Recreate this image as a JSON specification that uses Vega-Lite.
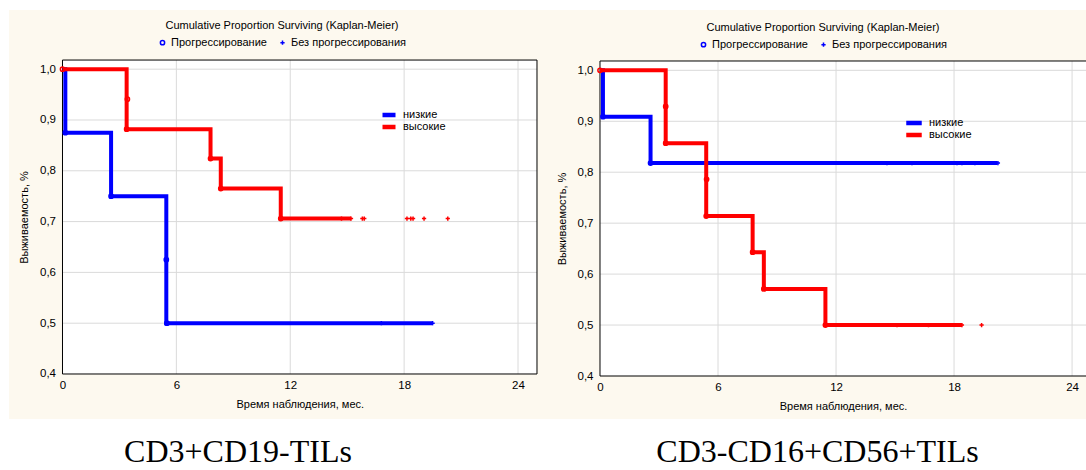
{
  "$schema": "https://vega.github.io/schema/vega-lite/v6.json",
  "padding": {"left": 9, "top": 10, "right": 0, "bottom": 0},
  "spacing": 0,
  "datasets": {
    "lines": [
      {"panel": "L", "group": "низкие", "t": 0, "s": 1},
      {"panel": "L", "group": "низкие", "t": 0.15, "s": 0.875},
      {"panel": "L", "group": "низкие", "t": 2.56, "s": 0.75},
      {"panel": "L", "group": "низкие", "t": 5.47, "s": 0.5},
      {"panel": "L", "group": "низкие", "t": 19.5, "s": 0.5},
      {"panel": "L", "group": "высокие", "t": 0, "s": 1},
      {"panel": "L", "group": "высокие", "t": 3.38, "s": 0.882},
      {"panel": "L", "group": "высокие", "t": 7.8, "s": 0.824},
      {"panel": "L", "group": "высокие", "t": 8.34, "s": 0.765},
      {"panel": "L", "group": "высокие", "t": 11.5, "s": 0.706},
      {"panel": "L", "group": "высокие", "t": 15.2, "s": 0.706},
      {"panel": "R", "group": "низкие", "t": 0, "s": 1},
      {"panel": "R", "group": "низкие", "t": 0.15, "s": 0.909},
      {"panel": "R", "group": "низкие", "t": 2.57, "s": 0.818},
      {"panel": "R", "group": "низкие", "t": 20.2, "s": 0.818},
      {"panel": "R", "group": "высокие", "t": 0, "s": 1},
      {"panel": "R", "group": "высокие", "t": 3.34, "s": 0.857},
      {"panel": "R", "group": "высокие", "t": 5.4, "s": 0.714},
      {"panel": "R", "group": "высокие", "t": 7.76, "s": 0.643},
      {"panel": "R", "group": "высокие", "t": 8.33, "s": 0.571},
      {"panel": "R", "group": "высокие", "t": 11.46, "s": 0.5},
      {"panel": "R", "group": "высокие", "t": 18.4, "s": 0.5}
    ],
    "marks": [
      {"panel": "L", "group": "низкие", "status": "Прогрессирование", "t": 0.15, "s": 0.875},
      {"panel": "L", "group": "низкие", "status": "Прогрессирование", "t": 2.56, "s": 0.75},
      {"panel": "L", "group": "низкие", "status": "Прогрессирование", "t": 5.47, "s": 0.625},
      {"panel": "L", "group": "низкие", "status": "Прогрессирование", "t": 5.5, "s": 0.5},
      {"panel": "L", "group": "низкие", "status": "Без прогрессирования", "t": 16.8, "s": 0.5},
      {"panel": "L", "group": "низкие", "status": "Без прогрессирования", "t": 19.5, "s": 0.5},
      {"panel": "L", "group": "высокие", "status": "Прогрессирование", "t": 0, "s": 1},
      {"panel": "L", "group": "высокие", "status": "Прогрессирование", "t": 3.42, "s": 0.941},
      {"panel": "L", "group": "высокие", "status": "Прогрессирование", "t": 3.38, "s": 0.882},
      {"panel": "L", "group": "высокие", "status": "Прогрессирование", "t": 7.8, "s": 0.824},
      {"panel": "L", "group": "высокие", "status": "Прогрессирование", "t": 8.34, "s": 0.765},
      {"panel": "L", "group": "высокие", "status": "Прогрессирование", "t": 11.5, "s": 0.706},
      {"panel": "L", "group": "высокие", "status": "Без прогрессирования", "t": 14.7, "s": 0.706},
      {"panel": "L", "group": "высокие", "status": "Без прогрессирования", "t": 15.2, "s": 0.706},
      {"panel": "L", "group": "высокие", "status": "Без прогрессирования", "t": 15.8, "s": 0.706},
      {"panel": "L", "group": "высокие", "status": "Без прогрессирования", "t": 15.9, "s": 0.706},
      {"panel": "L", "group": "высокие", "status": "Без прогрессирования", "t": 18.15, "s": 0.706},
      {"panel": "L", "group": "высокие", "status": "Без прогрессирования", "t": 18.35, "s": 0.706},
      {"panel": "L", "group": "высокие", "status": "Без прогрессирования", "t": 18.47, "s": 0.706},
      {"panel": "L", "group": "высокие", "status": "Без прогрессирования", "t": 19.05, "s": 0.706},
      {"panel": "L", "group": "высокие", "status": "Без прогрессирования", "t": 20.3, "s": 0.706},
      {"panel": "R", "group": "низкие", "status": "Прогрессирование", "t": 0.15, "s": 0.909},
      {"panel": "R", "group": "низкие", "status": "Прогрессирование", "t": 2.57, "s": 0.818},
      {"panel": "R", "group": "низкие", "status": "Без прогрессирования", "t": 14.59, "s": 0.818},
      {"panel": "R", "group": "низкие", "status": "Без прогрессирования", "t": 15.86, "s": 0.818},
      {"panel": "R", "group": "низкие", "status": "Без прогрессирования", "t": 18.15, "s": 0.818},
      {"panel": "R", "group": "низкие", "status": "Без прогрессирования", "t": 18.4, "s": 0.818},
      {"panel": "R", "group": "низкие", "status": "Без прогрессирования", "t": 19.06, "s": 0.818},
      {"panel": "R", "group": "низкие", "status": "Без прогрессирования", "t": 20.23, "s": 0.818},
      {"panel": "R", "group": "высокие", "status": "Прогрессирование", "t": 0, "s": 1},
      {"panel": "R", "group": "высокие", "status": "Прогрессирование", "t": 3.34, "s": 0.929},
      {"panel": "R", "group": "высокие", "status": "Прогрессирование", "t": 3.34, "s": 0.857},
      {"panel": "R", "group": "высокие", "status": "Прогрессирование", "t": 5.42, "s": 0.786},
      {"panel": "R", "group": "высокие", "status": "Прогрессирование", "t": 5.4, "s": 0.714},
      {"panel": "R", "group": "высокие", "status": "Прогрессирование", "t": 7.76, "s": 0.643},
      {"panel": "R", "group": "высокие", "status": "Прогрессирование", "t": 8.33, "s": 0.571},
      {"panel": "R", "group": "высокие", "status": "Прогрессирование", "t": 11.46, "s": 0.5},
      {"panel": "R", "group": "высокие", "status": "Без прогрессирования", "t": 15.1, "s": 0.5},
      {"panel": "R", "group": "высокие", "status": "Без прогрессирования", "t": 16.7, "s": 0.5},
      {"panel": "R", "group": "высокие", "status": "Без прогрессирования", "t": 18.4, "s": 0.5},
      {"panel": "R", "group": "высокие", "status": "Без прогрессирования", "t": 19.4, "s": 0.5}
    ],
    "gridx": [{"v": 6}, {"v": 12}, {"v": 18}, {"v": 24}],
    "gridy": [{"v": 0.5}, {"v": 0.6}, {"v": 0.7}, {"v": 0.8}, {"v": 0.9}, {"v": 1.0}]
  },
  "hconcat": [
    {
      "width": 536,
      "height": 409,
      "title": {"text": "CD3+CD19-TILs", "orient": "bottom", "anchor": "middle", "frame": "group", "dx": -39, "offset": 18, "font": "Liberation Serif", "fontSize": 32, "fontWeight": "normal", "color": "#000000"},
      "layer": [
        {
          "data": {"values": [{}]},
          "mark": {"type": "rect", "fill": "#ffffff", "clip": true},
          "encoding": {
            "x": {"datum": 0, "type": "quantitative", "scale": {"domain": [-2.818, 25.422], "nice": false, "zero": false},
              "axis": {"values": [0, 6, 12, 18, 24], "offset": -45, "labelPadding": 5, "labelFlush": false, "labelOverlap": false, "title": "Время наблюдения, мес.", "titleX": 290.75, "titlePadding": 8}},
            "x2": {"datum": 25},
            "y": {"datum": 0.4, "type": "quantitative", "scale": {"domain": [0.3114, 1.1165], "nice": false, "zero": false},
              "axis": {"values": [0.4, 0.5, 0.6, 0.7, 0.8, 0.9, 1.0], "offset": -53.5, "labelPadding": 7, "labelFlush": false, "labelOverlap": false, "labelExpr": "replace(format(datum.value, '.1f'), '.', ',')", "title": "Выживаемость, %", "titleY": 207, "titlePadding": 10}},
            "y2": {"datum": 1.018}
          }
        },
        {
          "data": {"name": "gridx"},
          "mark": {"type": "rule", "color": "#dadada", "strokeWidth": 1},
          "encoding": {"x": {"field": "v", "type": "quantitative"}, "y": {"datum": 0.4, "type": "quantitative"}, "y2": {"datum": 1.018}}
        },
        {
          "data": {"name": "gridy"},
          "mark": {"type": "rule", "color": "#dadada", "strokeWidth": 1, "clip": true},
          "encoding": {"y": {"field": "v", "type": "quantitative"}, "x": {"datum": 0, "type": "quantitative"}, "x2": {"datum": 25}}
        },
        {
          "data": {"values": [{}]},
          "mark": {"type": "rect", "fill": null, "fillOpacity": 0, "stroke": "#000000", "strokeWidth": 1, "clip": true},
          "encoding": {"x": {"datum": 0, "type": "quantitative"}, "x2": {"datum": 25}, "y": {"datum": 0.4, "type": "quantitative"}, "y2": {"datum": 1.018}}
        },
        {
          "data": {"name": "lines"},
          "transform": [{"filter": "datum.panel === 'L'"}],
          "mark": {"type": "line", "interpolate": "step-after", "strokeWidth": 4},
          "encoding": {
            "x": {"field": "t", "type": "quantitative"},
            "y": {"field": "s", "type": "quantitative"},
            "color": {"field": "group", "type": "nominal", "scale": {"domain": ["низкие", "высокие"], "range": ["#0000ff", "#ff0000"]},
              "legend": {"title": null, "orient": "none", "legendX": 371, "legendY": 99, "padding": 0, "symbolType": "stroke", "symbolStrokeWidth": 4.5, "symbolSize": 169, "clipHeight": 12, "labelFont": "Liberation Sans", "labelFontSize": 11, "labelColor": "#000000", "labelOffset": 5, "rowPadding": 0}}
          }
        },
        {
          "data": {"name": "marks"},
          "transform": [{"filter": "datum.panel === 'L'"}],
          "mark": {"type": "point", "filled": false, "strokeWidth": 1.5, "size": 18, "opacity": 1},
          "encoding": {
            "x": {"field": "t", "type": "quantitative"},
            "y": {"field": "s", "type": "quantitative"},
            "color": {"field": "group", "type": "nominal", "scale": {"domain": ["низкие", "высокие"], "range": ["#0000ff", "#ff0000"]},
              "legend": {"title": null, "orient": "none", "legendX": 371, "legendY": 99, "padding": 0, "symbolType": "stroke", "symbolStrokeWidth": 4.5, "symbolSize": 169, "clipHeight": 12, "labelFont": "Liberation Sans", "labelFontSize": 11, "labelColor": "#000000", "labelOffset": 5, "rowPadding": 0}},
            "shape": {"field": "status", "type": "nominal", "scale": {"domain": ["Прогрессирование", "Без прогрессирования"], "range": ["circle", "M-1,0L1,0M0,-1L0,1"]},
              "legend": {"title": "Cumulative Proportion Surviving (Kaplan-Meier)", "orient": "none", "legendX": 148, "legendY": 10, "padding": 0, "direction": "horizontal", "titleAnchor": "middle", "titleLimit": 500, "titleFont": "Liberation Sans", "titleFontSize": 11, "titleFontWeight": "normal", "titleColor": "#000000", "titlePadding": 6, "labelFont": "Liberation Sans", "labelFontSize": 11, "labelColor": "#000000", "labelOffset": 3, "columnPadding": 10, "symbolStrokeColor": "#0000ff", "symbolStrokeWidth": 1.5, "symbolSize": 18}}
          }
        }
      ]
    },
    {
      "width": 541,
      "height": 409,
      "title": {"text": "CD3-CD16+CD56+TILs", "orient": "bottom", "anchor": "middle", "frame": "group", "dx": 2, "offset": 18, "font": "Liberation Serif", "fontSize": 32, "fontWeight": "normal", "color": "#000000"},
      "layer": [
        {
          "data": {"values": [{}]},
          "mark": {"type": "rect", "fill": "#ffffff", "clip": true},
          "encoding": {
            "x": {"datum": 0, "type": "quantitative", "scale": {"domain": [-2.796, 24.708], "nice": false, "zero": false},
              "axis": {"values": [0, 6, 12, 18, 24], "offset": -43, "labelPadding": 5, "labelFlush": false, "labelOverlap": false, "title": "Время наблюдения, мес.", "titleX": 298, "titlePadding": 8}},
            "x2": {"datum": 25},
            "y": {"datum": 0.4, "type": "quantitative", "scale": {"domain": [0.3156, 1.1184], "nice": false, "zero": false},
              "axis": {"values": [0.4, 0.5, 0.6, 0.7, 0.8, 0.9, 1.0], "offset": -55, "labelPadding": 7, "labelFlush": false, "labelOverlap": false, "labelExpr": "replace(format(datum.value, '.1f'), '.', ',')", "title": "Выживаемость, %", "titleY": 208.5, "titlePadding": 10}},
            "y2": {"datum": 1.0183}
          }
        },
        {
          "data": {"name": "gridx"},
          "mark": {"type": "rule", "color": "#dadada", "strokeWidth": 1},
          "encoding": {"x": {"field": "v", "type": "quantitative"}, "y": {"datum": 0.4, "type": "quantitative"}, "y2": {"datum": 1.0183}}
        },
        {
          "data": {"name": "gridy"},
          "mark": {"type": "rule", "color": "#dadada", "strokeWidth": 1, "clip": true},
          "encoding": {"y": {"field": "v", "type": "quantitative"}, "x": {"datum": 0, "type": "quantitative"}, "x2": {"datum": 25}}
        },
        {
          "data": {"values": [{}]},
          "mark": {"type": "rect", "fill": null, "fillOpacity": 0, "stroke": "#000000", "strokeWidth": 1, "clip": true},
          "encoding": {"x": {"datum": 0, "type": "quantitative"}, "x2": {"datum": 25}, "y": {"datum": 0.4, "type": "quantitative"}, "y2": {"datum": 1.0183}}
        },
        {
          "data": {"name": "lines"},
          "transform": [{"filter": "datum.panel === 'R'"}],
          "mark": {"type": "line", "interpolate": "step-after", "strokeWidth": 4},
          "encoding": {
            "x": {"field": "t", "type": "quantitative"},
            "y": {"field": "s", "type": "quantitative"},
            "color": {"field": "group", "type": "nominal", "scale": {"domain": ["низкие", "высокие"], "range": ["#0000ff", "#ff0000"]},
              "legend": {"title": null, "orient": "none", "legendX": 359, "legendY": 107, "padding": 0, "symbolType": "stroke", "symbolStrokeWidth": 4.5, "symbolSize": 240, "clipHeight": 12, "labelFont": "Liberation Sans", "labelFontSize": 11, "labelColor": "#000000", "labelOffset": 5, "rowPadding": 0}}
          }
        },
        {
          "data": {"name": "marks"},
          "transform": [{"filter": "datum.panel === 'R'"}],
          "mark": {"type": "point", "filled": false, "strokeWidth": 1.5, "size": 18, "opacity": 1},
          "encoding": {
            "x": {"field": "t", "type": "quantitative"},
            "y": {"field": "s", "type": "quantitative"},
            "color": {"field": "group", "type": "nominal", "scale": {"domain": ["низкие", "высокие"], "range": ["#0000ff", "#ff0000"]},
              "legend": {"title": null, "orient": "none", "legendX": 359, "legendY": 107, "padding": 0, "symbolType": "stroke", "symbolStrokeWidth": 4.5, "symbolSize": 240, "clipHeight": 12, "labelFont": "Liberation Sans", "labelFontSize": 11, "labelColor": "#000000", "labelOffset": 5, "rowPadding": 0}},
            "shape": {"field": "status", "type": "nominal", "scale": {"domain": ["Прогрессирование", "Без прогрессирования"], "range": ["circle", "M-1,0L1,0M0,-1L0,1"]},
              "legend": {"title": "Cumulative Proportion Surviving (Kaplan-Meier)", "orient": "none", "legendX": 153, "legendY": 12, "padding": 0, "direction": "horizontal", "titleAnchor": "middle", "titleLimit": 500, "titleFont": "Liberation Sans", "titleFontSize": 11, "titleFontWeight": "normal", "titleColor": "#000000", "titlePadding": 6, "labelFont": "Liberation Sans", "labelFontSize": 11, "labelColor": "#000000", "labelOffset": 3, "columnPadding": 10, "symbolStrokeColor": "#0000ff", "symbolStrokeWidth": 1.5, "symbolSize": 18}}
          }
        }
      ]
    }
  ],
  "resolve": {
    "scale": {"x": "independent", "y": "independent", "color": "independent", "shape": "independent"},
    "legend": {"color": "independent", "shape": "independent"},
    "axis": {"x": "independent", "y": "independent"}
  },
  "config": {
    "background": "#ffffff",
    "view": {"stroke": null, "fill": "#fdf9ef"},
    "font": "Liberation Sans",
    "axis": {"labelFont": "Liberation Sans", "titleFont": "Liberation Sans", "labelColor": "#000000", "titleColor": "#000000", "titleFontWeight": "normal", "labelFontSize": 11.5, "titleFontSize": 11, "domain": false, "ticks": false, "grid": false}
  }
}
